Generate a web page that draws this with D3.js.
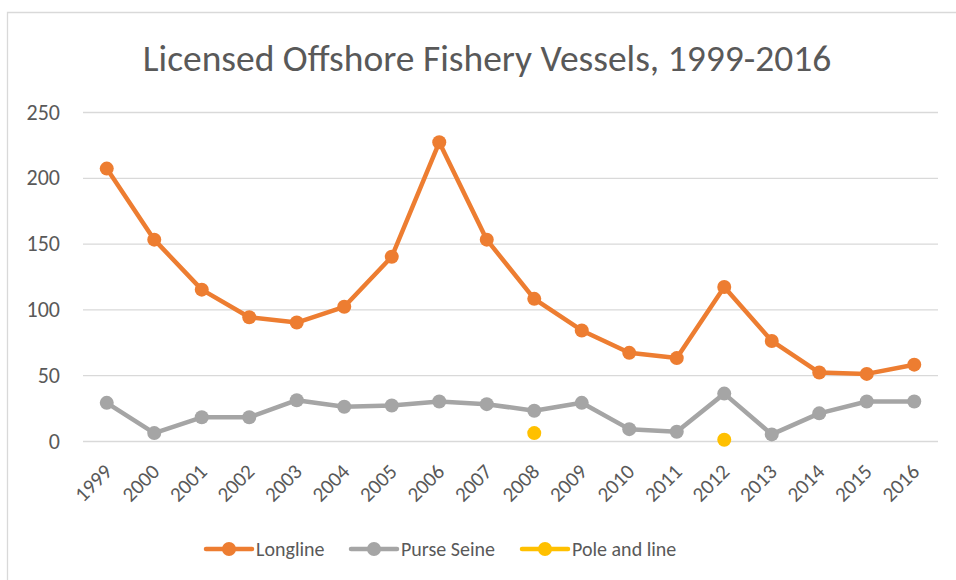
<!DOCTYPE html>
<html>
  <head>
    <title>Licensed Offshore Fishery Vessels</title>
    <style>
    body {
        margin: 0px;
        overflow: hidden;
        background: white;
    }
    text {
        font-family: Carlito, Lato, "Open Sans", sans-serif;
        fill: #595959;
    }
    .tick line {
        stroke: #D9D9D9;
    }
    </style>
    <script src="https://d3js.org/d3.v7.min.js"></script>
  </head>
  <body>
    <svg width="956" height="580"></svg>
    <script>
        // data
        const years = ['1999','2000','2001','2002','2003','2004','2005','2006','2007',
                       '2008','2009','2010','2011','2012','2013','2014','2015','2016'];
        const longline = [207,153,115,94,90,102,140,227,153,108,84,67,63,117,76,52,51,58];
        const purseSeine = [29,6,18,18,31,26,27,30,28,23,29,9,7,36,5,21,30,30];
        const poleAndLine = [null,null,null,null,null,null,null,null,null,6,null,null,null,1,null,null,null,null];
        const yTicks = [0,50,100,150,200,250];

        const series = [
            {name: 'Longline', values: longline, color: '#ED7D31'},
            {name: 'Purse Seine', values: purseSeine, color: '#A5A5A5'},
            {name: 'Pole and line', values: poleAndLine, color: '#FFC000'}
        ];

        const svg = d3.select('svg');

        // chart area border: only the top and left edges are in view
        svg.append('path')
            .attr('d', 'M7.5,580V12.5H956')
            .attr('fill', 'none')
            .attr('stroke', '#D9D9D9')
            .attr('stroke-width', 1.3);

        const margin = {top: 112, left: 83, right: 18, bottom: 139};
        const innerWidth = 956 - margin.left - margin.right;
        const innerHeight = 580 - margin.top - margin.bottom;

        const xScale = d3.scalePoint()
            .domain(years)
            .range([0, innerWidth])
            .padding(0.5);

        const yScale = d3.scaleLinear()
            .domain([0, 250])
            .range([innerHeight, 0]);

        const g = svg.append('g')
            .attr('transform', `translate(${margin.left},${margin.top})`);

        // title
        svg.append('text')
            .text('Licensed Offshore Fishery Vessels, 1999-2016')
            .attr('x', 487)
            .attr('y', 71)
            .attr('text-anchor', 'middle')
            .attr('font-size', '37.5px');

        // y axis with gridlines
        const yAxisG = g.append('g')
            .call(d3.axisLeft(yScale).tickValues(yTicks).tickSize(-innerWidth).tickPadding(23));
        yAxisG.select('.domain').remove();
        yAxisG.selectAll('.tick line').attr('stroke', '#D9D9D9').attr('stroke-width', 1.3);
        yAxisG.selectAll('.tick text')
            .attr('font-size', '22px')
            .attr('fill', '#595959');

        // x axis, labels turned 45 degrees
        const xAxisG = g.append('g')
            .attr('transform', `translate(0,${innerHeight})`)
            .call(d3.axisBottom(xScale).tickSize(0));
        xAxisG.select('.domain').remove();
        xAxisG.selectAll('.tick text')
            .attr('font-size', '21px')
            .attr('fill', '#595959')
            .attr('text-anchor', 'end')
            .attr('y', 0)
            .attr('dy', 0)
            .attr('transform', 'translate(6,32) rotate(-45)');

        // lines
        const line = d3.line()
            .defined(d => d != null)
            .x((d, i) => xScale(years[i]))
            .y(d => yScale(d));

        series.forEach(s => {
            g.append('path')
                .datum(s.values)
                .attr('fill', 'none')
                .attr('stroke', s.color)
                .attr('stroke-width', 4.5)
                .attr('stroke-linejoin', 'round')
                .attr('d', line);

            g.selectAll(null)
                .data(s.values.map((v, i) => ({v: v, year: years[i]})).filter(d => d.v != null))
                .enter().append('circle')
                    .attr('cx', d => xScale(d.year))
                    .attr('cy', d => yScale(d.v))
                    .attr('r', 7)
                    .attr('fill', s.color);
        });

        // legend
        const legendX = [206, 351, 522];
        const legendY = 549;
        series.forEach((s, i) => {
            const lg = svg.append('g')
                .attr('transform', `translate(${legendX[i]},${legendY})`);
            lg.append('line')
                .attr('x1', 0).attr('x2', 46)
                .attr('y1', 0).attr('y2', 0)
                .attr('stroke', s.color)
                .attr('stroke-width', 4.5)
                .attr('stroke-linecap', 'round');
            lg.append('circle')
                .attr('cx', 23).attr('cy', 0)
                .attr('r', 7)
                .attr('fill', s.color);
            lg.append('text')
                .text(s.name)
                .attr('x', 50)
                .attr('y', 0)
                .attr('dy', '0.35em')
                .attr('font-size', '20px');
        });
    </script>
  </body>
</html>
